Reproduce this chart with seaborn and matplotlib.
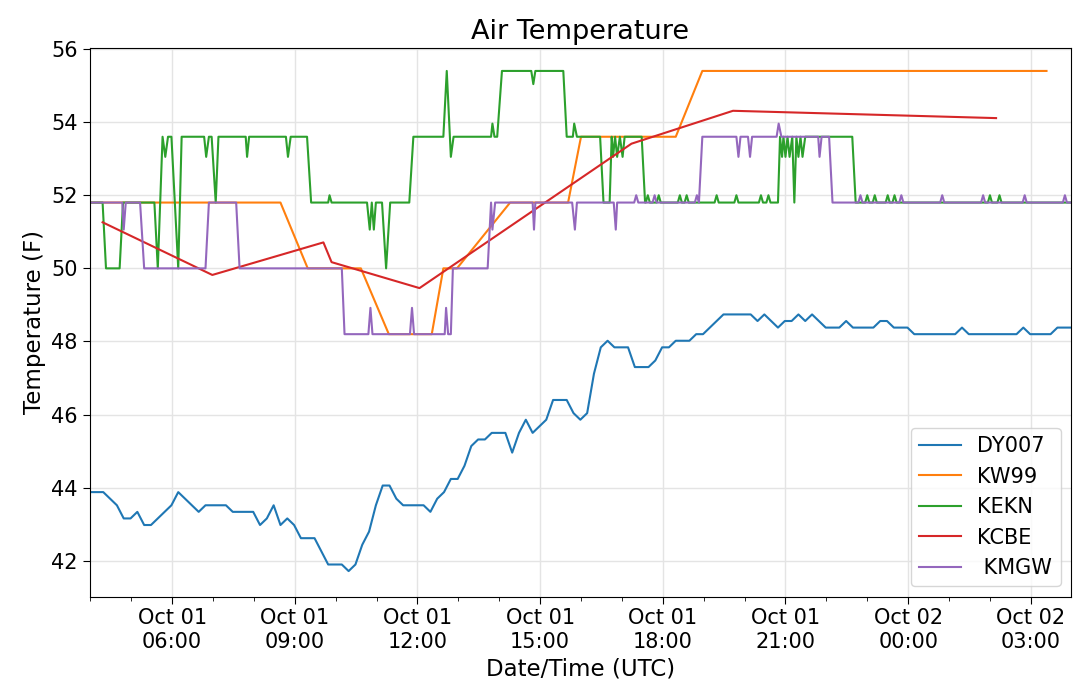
import pandas as pd
import matplotlib
matplotlib.use("Agg")
import matplotlib.pyplot as plt
import matplotlib.dates as mdates
import seaborn as sns

BASE = pd.Timestamp("2019-10-01 00:00")

# ---------------- data ----------------
# DY007: 10-minute samples starting 03:59 UTC (step index, temperature F)
dy007_step = [0, 2, 3, 4, 5, 6, 7, 8, 9, 10, 11, 12, 13, 14, 15, 16, 17, 20, 21, 24,
              25, 26, 27, 28, 29, 30, 31, 33, 34, 35, 37, 38, 39, 40, 41, 42, 43, 44, 45, 46,
              49, 50, 51, 52, 53, 54, 55, 56, 57, 58, 59, 61, 62, 63, 64, 65, 66, 67, 68, 70,
              71, 72, 73, 74, 75, 76, 77, 79, 80, 82, 83, 84, 85, 86, 88, 89, 90, 91, 92, 93,
              97, 98, 99, 100, 101, 102, 103, 104, 105, 106, 107, 108, 110, 111, 112, 115, 116, 117, 118, 120,
              121, 127, 128, 129, 136, 137, 138, 141, 142, 144]
dy007_temp = [43.88, 43.88, 43.70, 43.52, 43.16, 43.16, 43.34, 42.98, 42.98, 43.16, 43.34, 43.52, 43.88, 43.70, 43.52, 43.34, 43.52, 43.52, 43.34, 43.34,
              42.98, 43.16, 43.52, 42.98, 43.16, 42.98, 42.62, 42.62, 42.26, 41.90, 41.90, 41.72, 41.90, 42.44, 42.80, 43.52, 44.06, 44.06, 43.70, 43.52,
              43.52, 43.34, 43.70, 43.88, 44.24, 44.24, 44.60, 45.14, 45.32, 45.32, 45.50, 45.50, 44.96, 45.50, 45.86, 45.50, 45.68, 45.86, 46.40, 46.40,
              46.04, 45.86, 46.04, 47.12, 47.84, 48.02, 47.84, 47.84, 47.30, 47.30, 47.48, 47.84, 47.84, 48.02, 48.02, 48.20, 48.20, 48.38, 48.56, 48.74,
              48.74, 48.56, 48.74, 48.56, 48.38, 48.56, 48.56, 48.74, 48.56, 48.74, 48.56, 48.38, 48.38, 48.56, 48.38, 48.38, 48.56, 48.56, 48.38, 48.38,
              48.20, 48.20, 48.38, 48.20, 48.20, 48.38, 48.20, 48.20, 48.38, 48.38]

# KW99: minutes after Oct 01 00:00 UTC
kw99_min = [240, 519, 559, 637, 678, 741, 758, 778, 856, 941, 960, 1099, 1138, 1643]
kw99_temp = [51.8, 51.8, 50.0, 50.0, 48.2, 48.2, 50.0, 50.0, 51.8, 51.8, 53.6, 53.6, 55.4, 55.4]

# KEKN
kekn_min = [240, 258, 263, 283, 288, 334, 339, 346, 350, 354, 359, 369, 374, 407, 410, 414, 418, 424, 428, 468,
            470, 473, 527, 530, 534, 558, 564, 589, 591, 594, 646, 650, 653, 656, 659, 668, 674, 680, 708, 714,
            758, 763, 769, 773, 828, 830, 833, 837, 844, 887, 890, 893, 934, 939, 948, 950, 954, 988, 993, 1002,
            1005, 1007, 1010, 1013, 1017, 1021, 1024, 1049, 1054, 1055, 1058, 1061, 1071, 1074, 1077, 1102, 1105, 1108, 1112, 1115,
            1118, 1156, 1159, 1162, 1185, 1188, 1191, 1221, 1224, 1227, 1232, 1235, 1238, 1249, 1252, 1255, 1257, 1260, 1263, 1266,
            1270, 1273, 1276, 1279, 1282, 1285, 1289, 1358, 1363, 1377, 1380, 1383, 1388, 1391, 1394, 1407, 1410, 1413, 1417, 1420,
            1423, 1557, 1560, 1563, 1571, 1574, 1577, 1678]
kekn_temp = [51.8, 51.8, 50.0, 50.0, 51.8, 51.8, 50.0, 53.6, 53.05, 53.6, 53.6, 50.0, 53.6, 53.6, 53.05, 53.6, 53.6, 51.8, 53.6, 53.6,
             53.05, 53.6, 53.6, 53.05, 53.6, 53.6, 51.8, 51.8, 52.0, 51.8, 51.8, 51.06, 51.8, 51.06, 51.8, 51.8, 50.0, 51.8, 51.8, 53.6,
             53.6, 55.4, 53.05, 53.6, 53.6, 53.96, 53.6, 53.6, 55.4, 55.4, 55.04, 55.4, 55.4, 53.6, 53.6, 53.96, 53.6, 53.6, 51.8, 51.8,
             53.6, 53.05, 53.6, 53.05, 53.6, 53.05, 53.6, 53.6, 51.8, 51.8, 52.0, 51.8, 51.8, 52.0, 51.8, 51.8, 52.0, 51.8, 51.8, 52.0,
             51.8, 51.8, 52.0, 51.8, 51.8, 52.0, 51.8, 51.8, 52.0, 51.8, 51.8, 52.0, 51.8, 51.8, 53.6, 53.05, 53.6, 53.05, 53.6, 53.05,
             53.6, 51.8, 53.6, 53.05, 53.6, 53.05, 53.6, 53.6, 51.8, 51.8, 52.0, 51.8, 51.8, 52.0, 51.8, 51.8, 52.0, 51.8, 51.8, 52.0,
             51.8, 51.8, 52.0, 51.8, 51.8, 52.0, 51.8, 51.8]

# KCBE
kcbe_min = [258, 419, 582, 594, 723, 1034, 1183, 1569]
kcbe_temp = [51.26, 49.82, 50.71, 50.17, 49.46, 53.41, 54.31, 54.11]

# KMGW
kmgw_min = [240, 287, 289, 292, 313, 319, 409, 414, 454, 459, 609, 613, 648, 651, 654, 709, 712, 715, 760, 762,
            765, 769, 772, 823, 828, 830, 834, 889, 891, 893, 947, 951, 954, 1008, 1011, 1013, 1038, 1041, 1044, 1065,
            1068, 1071, 1127, 1130, 1133, 1138, 1188, 1191, 1194, 1205, 1208, 1211, 1247, 1250, 1254, 1308, 1310, 1313, 1324, 1329,
            1367, 1370, 1373, 1427, 1430, 1433, 1487, 1490, 1493, 1547, 1550, 1553, 1608, 1611, 1614, 1667, 1670, 1673, 1678]
kmgw_temp = [51.8, 51.8, 51.06, 51.8, 51.8, 50.0, 50.0, 51.8, 51.8, 50.0, 50.0, 48.2, 48.2, 48.92, 48.2, 48.2, 48.92, 48.2, 48.2, 48.92,
             48.2, 48.2, 50.0, 50.0, 51.8, 51.06, 51.8, 51.8, 51.06, 51.8, 51.8, 51.06, 51.8, 51.8, 51.06, 51.8, 51.8, 52.0, 51.8, 51.8,
             52.0, 51.8, 51.8, 52.0, 51.8, 53.6, 53.6, 53.05, 53.6, 53.6, 53.05, 53.6, 53.6, 53.96, 53.6, 53.6, 53.05, 53.6, 53.6, 51.8,
             51.8, 52.0, 51.8, 51.8, 52.0, 51.8, 51.8, 52.0, 51.8, 51.8, 52.0, 51.8, 51.8, 52.0, 51.8, 51.8, 52.0, 51.8, 51.8]

station_names = ["DY007", "KW99", "KEKN", "KCBE", " KMGW"]

# ---------------- build ----------------
def to_time(minutes):
    return pd.Series(BASE + pd.to_timedelta(minutes, unit="m"))

dy007_min = [239 + 10 * s for s in dy007_step]
series = [
    (to_time(dy007_min), dy007_temp),
    (to_time(kw99_min), kw99_temp),
    (to_time(kekn_min), kekn_temp),
    (to_time(kcbe_min), kcbe_temp),
    (to_time(kmgw_min), kmgw_temp),
]

fig = plt.figure(figsize=(10.8, 6.89), dpi=100)
ax = fig.add_axes([0.083, 0.134, 0.9087, 0.797])
colors = sns.color_palette("tab10", 5)

for name, (t, v), c in zip(station_names, series, colors):
    sns.lineplot(x=t, y=v, ax=ax, color=c, label=name, linewidth=1.5,
                 estimator=None, sort=False)

ax.set_xlim(BASE + pd.Timedelta(minutes=239), BASE + pd.Timedelta(minutes=239 + 1440))
ax.set_ylim(41.02, 56.04)
ax.set_yticks(list(range(42, 57, 2)))

ax.xaxis.set_major_locator(mdates.HourLocator(byhour=range(0, 24, 3)))
ax.xaxis.set_minor_locator(mdates.HourLocator())
ax.xaxis.set_major_formatter(mdates.DateFormatter("%b %d\n%H:%M"))

ax.tick_params(axis="both", which="major", labelsize=15, length=5)
ax.tick_params(axis="x", which="minor", length=3)

ax.grid(True, which="major", color="#e4e4e4", linewidth=1.0)
ax.set_axisbelow(True)

ax.set_title("Air Temperature", fontsize=19.5)
ax.set_xlabel("Date/Time (UTC)", fontsize=16.5)
ax.set_ylabel("Temperature (F)", fontsize=16.5)

ax.legend(loc="lower right", fontsize=15)

fig.savefig("out.png", dpi=100)
